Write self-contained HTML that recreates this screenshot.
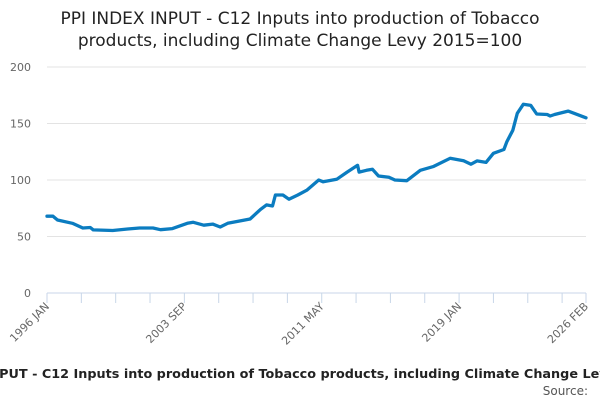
<!DOCTYPE html>
<html><head><meta charset="utf-8"><style>
body{margin:0;width:600px;height:400px;overflow:hidden;background:#fff;font-family:"Liberation Sans","DejaVu Sans",sans-serif}
</style></head><body>
<svg width="600" height="400" id="c" font-family="DejaVu Sans, Liberation Sans, sans-serif">
<text x="300" y="24" text-anchor="middle" font-size="17" fill="#222">PPI INDEX INPUT - C12 Inputs into production of Tobacco</text>
<text x="300" y="46" text-anchor="middle" font-size="17" fill="#222">products, including Climate Change Levy 2015=100</text>
<g id="grid"></g><g id="xax"></g><g id="series"></g>
<text x="300" y="378" text-anchor="middle" font-size="12.8" font-weight="bold" fill="#222">PPI INDEX INPUT - C12 Inputs into production of Tobacco products, including Climate Change Levy 2015=100</text>
<text x="588" y="395" text-anchor="end" font-size="12" fill="#555">Source:</text>
</svg>
<script>
const yTicks=[0,50,100,150,200];
const xLabels=["1996 JAN","2003 SEP","2011 MAY","2019 JAN","2026 FEB"];
const xLabelMonths=[0,92,184,276,361];
const months=[0,4,7,17,24,29,31,44,54,62,71,76,84,94,98,105,111,116,121,129,136,143,147,151,153,158,162,168,174,182,185,194,201,208,209,214,218,222,229,233,241,250,259,270,279,284,288,294,299,306,308,312,315,319,324,328,335,337,340,349,353,359,361];
const values=[68,68,64.6,61.7,57.5,58,55.8,55.3,56.6,57.5,57.5,56,57,61.7,62.6,60,61,58.4,61.7,63.7,65.5,74,78,77,86.7,86.7,83,86.7,91,100,98.4,100.6,107,113,107,108.6,109.5,103.5,102.4,100,99.4,108.6,112,119.2,117,114,116.9,115.6,123.6,127,134,144,159,167,166,158.4,158,156.6,158,161,159,156,155];
const NS="http://www.w3.org/2000/svg";
const x0=47,x1=586,y0=293,y1=67,mMax=361,vMax=200;
function xs(m){return x0+(x1-x0)*m/mMax;}
function ys(v){return y0-(y0-y1)*v/vMax;}
function mk(t,a,p){const e=document.createElementNS(NS,t);for(const k in a)e.setAttribute(k,a[k]);p.appendChild(e);return e;}
const grid=document.getElementById('grid');
yTicks.forEach(v=>{
  if(v>0){const l=mk('line',{x1:x0,x2:x1,y1:ys(v),y2:ys(v),stroke:'#e3e3e3','stroke-width':1},grid);
  
  }
  const t=mk('text',{x:31,y:ys(v)+4,'text-anchor':'end','font-size':11,fill:'#666'},grid);
  t.textContent=v;
  
  
});
const xax=document.getElementById('xax');
const ax=mk('line',{x1:x0,x2:x1,y1:y0,y2:y0,stroke:'#c8d6e8','stroke-width':1},xax);


for(let m=0;m<=mMax;m+=23){
  const tk=mk('line',{x1:xs(m),x2:xs(m),y1:y0,y2:y0+10,stroke:'#c8d6e8'},xax);
  
  
}
const tkE=mk('line',{x1:xs(mMax),x2:xs(mMax),y1:y0,y2:y0+10,stroke:'#c8d6e8'},xax);


xLabels.forEach((s,i)=>{
  const x=xs(xLabelMonths[i]);
  const t=mk('text',{x:x+3,y:y0+14,'text-anchor':'end','font-size':11,fill:'#666',transform:`rotate(-45 ${x+3} ${y0+14})`},xax);
  t.textContent=s;
  
  
});
const d=months.map((m,i)=>(i?'L':'M')+xs(m).toFixed(1)+','+ys(values[i]).toFixed(1)).join(' ');
const p=mk('path',{d:d,fill:'none',stroke:'#0b7cc0','stroke-width':3.3,'stroke-linejoin':'round','stroke-linecap':'round'},document.getElementById('series'));


</script>
</body></html>
